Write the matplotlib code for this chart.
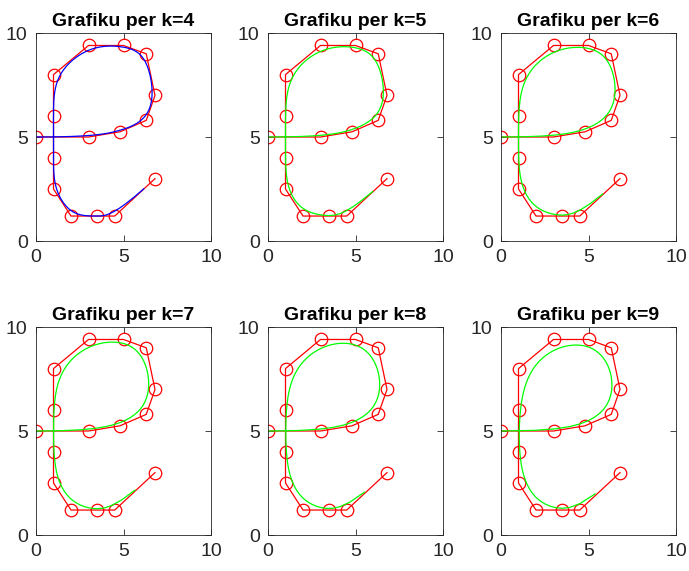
import numpy as np
import matplotlib
matplotlib.use("Agg")
import matplotlib.pyplot as plt

# control polygon of the letter "e"
px = [0, 3, 4.8, 6.3, 6.8, 6.3, 5, 3, 1, 1, 1, 1, 2, 3.5, 4.5, 6.8]
py = [5, 5, 5.25, 5.8, 7, 9, 9.4, 9.4, 8, 6, 4, 2.5, 1.2, 1.2, 1.2, 3]
orders = [4, 5, 6, 7, 8, 9]
curve_colors = ["#0000ff"] + ["#00ff00"] * 5
step = 0.1

plt.rcParams["font.family"] = ["Liberation Sans", "DejaVu Sans"]


def basis(i, k, t, knots):
    # Cox-de Boor recursion, half-open spans
    if k == 1:
        return np.where((t >= knots[i]) & (t < knots[i + 1]), 1.0, 0.0)
    out = np.zeros_like(t)
    d1 = knots[i + k - 1] - knots[i]
    d2 = knots[i + k] - knots[i + 1]
    if d1 > 0:
        out += (t - knots[i]) / d1 * basis(i, k - 1, t, knots)
    if d2 > 0:
        out += (knots[i + k] - t) / d2 * basis(i + 1, k - 1, t, knots)
    return out


def bspline(x, y, k):
    n = len(x)
    inner = np.arange(1, n - k + 1)
    knots = np.concatenate([np.zeros(k), inner, np.full(k, n - k + 1)]).astype(float)
    # last sample stops one step short of the end knot
    t = np.arange(0, knots[-1] - step / 2, step)
    bx = np.zeros(len(t))
    by = np.zeros(len(t))
    for i in range(n):
        b = basis(i, k, t, knots)
        bx += b * x[i]
        by += b * y[i]
    return bx, by


fig = plt.figure(figsize=(6.89, 5.71), dpi=100)
W, H = 689, 571
lefts = [36, 268, 501]
tops = [33, 327]
aw, ah = 175, 208

for idx, k in enumerate(orders):
    r, c = divmod(idx, 3)
    ax = fig.add_axes([lefts[c] / W, 1 - (tops[r] + ah) / H, aw / W, ah / H])
    ax.plot(px, py, color="red", lw=0.9, marker="o", ms=9, mfc="none", mew=0.9)
    cx, cy = bspline(px, py, k)
    ax.plot(cx, cy, color=curve_colors[idx], lw=0.9)
    ax.set_xlim(0, 10)
    ax.set_ylim(0, 10)
    ax.set_xticks([0, 5, 10])
    ax.set_yticks([0, 5, 10])
    ax.tick_params(direction="in", top=True, right=True, labelsize=14,
                   colors="#262626", length=4, width=0.6, pad=6)
    for s in ax.spines.values():
        s.set_color("#262626")
        s.set_linewidth(0.6)
    ax.set_title(f"Grafiku per k={k}", fontsize=14, fontweight="bold", pad=5)

fig.savefig("out.png", dpi=100)
